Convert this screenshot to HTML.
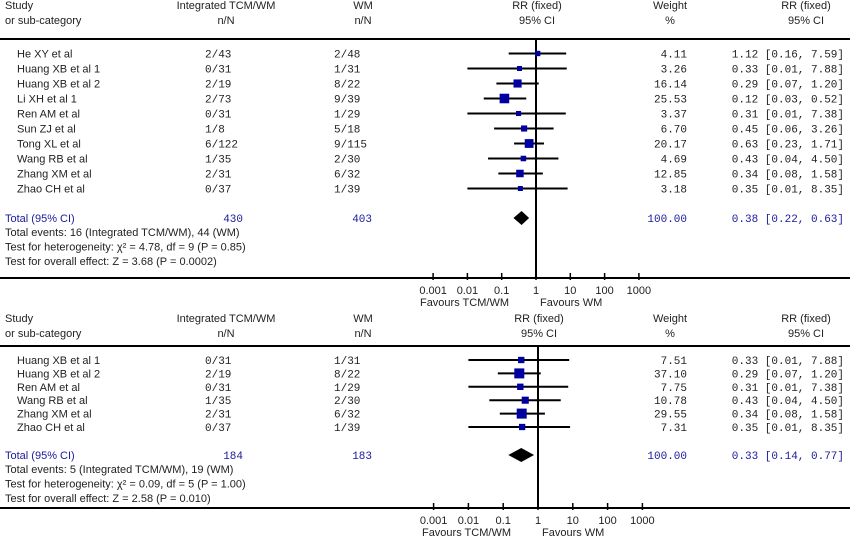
<!DOCTYPE html>
<html><head><meta charset="utf-8">
<style>
body{margin:0;background:#fff;width:850px;height:541px;overflow:hidden}
svg{display:block}
.s{font-family:"Liberation Sans",sans-serif;font-size:11px;fill:#222}
.m{font-family:"Liberation Mono",monospace;font-size:11px;fill:#222}
.b{fill:#1a1a9a}
</style></head><body>
<svg id="chart" width="850" height="541"></svg>
<script>
// Panel 1 data
const studies1 = ["He XY et al","Huang XB et al 1","Huang XB et al 2","Li XH  et al 1","Ren AM et al","Sun ZJ et al","Tong XL et al","Wang RB et al","Zhang XM et al","Zhao CH et al"];
const tcm1 = ["2/43","0/31","2/19","2/73","0/31","1/8","6/122","1/35","2/31","0/37"];
const wm1 = ["2/48","1/31","8/22","9/39","1/29","5/18","9/115","2/30","6/32","1/39"];
const rr1 = [1.12,0.33,0.29,0.12,0.31,0.45,0.63,0.43,0.34,0.35];
const lo1 = [0.16,0.01,0.07,0.03,0.01,0.06,0.23,0.04,0.08,0.01];
const hi1 = [7.59,7.88,1.20,0.52,7.38,3.26,1.71,4.50,1.58,8.35];
const w1 = [4.11,3.26,16.14,25.53,3.37,6.70,20.17,4.69,12.85,3.18];
const total1 = {n1:"430",n2:"403",rr:0.38,lo:0.22,hi:0.63};
const notes1 = ["Total events: 16 (Integrated TCM/WM), 44 (WM)","Test for heterogeneity: χ² = 4.78, df = 9 (P = 0.85)","Test for overall effect: Z = 3.68 (P = 0.0002)"];
// Panel 2 data
const studies2 = ["Huang XB et al 1","Huang XB et al 2","Ren AM et al","Wang RB et al","Zhang XM et al","Zhao CH et al"];
const tcm2 = ["0/31","2/19","0/31","1/35","2/31","0/37"];
const wm2 = ["1/31","8/22","1/29","2/30","6/32","1/39"];
const rr2 = [0.33,0.29,0.31,0.43,0.34,0.35];
const lo2 = [0.01,0.07,0.01,0.04,0.08,0.01];
const hi2 = [7.88,1.20,7.38,4.50,1.58,8.35];
const w2 = [7.51,37.10,7.75,10.78,29.55,7.31];
const total2 = {n1:"184",n2:"183",rr:0.33,lo:0.14,hi:0.77};
const notes2 = ["Total events: 5 (Integrated TCM/WM), 19 (WM)","Test for heterogeneity: χ² = 0.09, df = 5 (P = 1.00)","Test for overall effect: Z = 2.58 (P = 0.010)"];
const ticks = [0.001,0.01,0.1,1,10,100,1000];
const tickLabels = ["0.001","0.01","0.1","1","10","100","1000"];

const svg=document.getElementById('chart');
const NS="http://www.w3.org/2000/svg";
function mk(tag,attrs,name,parent){
  const e=document.createElementNS(NS,tag);
  for(const k in attrs)e.setAttribute(k,attrs[k]);
  
  
  (parent||svg).appendChild(e);return e;
}
function txt(x,y,s,cls,anchor,name,g){
  const t=mk('text',{x:x,y:y,class:cls,'text-anchor':anchor||'start'},name,g);t.textContent=s;return t;
}
const f2=v=>v.toFixed(2);
function panel(P,studies,tcm,wm,rr,lo,hi,w,total,notes,pname){
  const g=mk('g',{},pname);
  const X=v=>P.cx+Math.log10(v)*P.dec;
  const y0=P.top;
  txt(5,y0+13,"Study","s","start","study-header",g);
  txt(5,y0+28,"or sub-category","s","start","study-subheader",g);
  txt(226,y0+13,"Integrated TCM/WM","s","middle","tcm-header",g);
  txt(226,y0+28,"n/N","s","middle","tcm-subheader",g);
  txt(363,y0+13,"WM","s","middle","wm-header",g);
  txt(363,y0+28,"n/N","s","middle","wm-subheader",g);
  txt(P.cx+1,y0+13,"RR (fixed)","s","middle","rr-plot-header",g);
  txt(P.cx+1,y0+28,"95% CI","s","middle","rr-plot-subheader",g);
  txt(670,y0+13,"Weight","s","middle","weight-header",g);
  txt(670,y0+28,"%","s","middle","weight-subheader",g);
  txt(806,y0+13,"RR (fixed)","s","middle","rr-header",g);
  txt(806,y0+28,"95% CI","s","middle","rr-subheader",g);
  mk('line',{x1:0,x2:850,y1:P.line,y2:P.line,stroke:'#000','stroke-width':2},'header-rule',g);
  mk('line',{x1:P.cx,x2:P.cx,y1:P.line,y2:P.axis,stroke:'#000','stroke-width':2},'null-line',g);
  mk('line',{x1:0,x2:850,y1:P.axis,y2:P.axis,stroke:'#000','stroke-width':2},'x-axis',g);
  studies.forEach((s,i)=>{
    const y=P.row0+i*P.step;
    txt(17,y+4,s,"s","start","study-label",g);
    txt(205,y+4,tcm[i],"m","start","tcm-events",g);
    txt(334,y+4,wm[i],"m","start","wm-events",g);
    mk('line',{x1:X(lo[i]),x2:X(hi[i]),y1:y,y2:y,stroke:'#000','stroke-width':2},'ci-line',g);
    const sz=Math.min(10,2.5+Math.sqrt(w[i])*1.4);
    mk('rect',{x:X(rr[i])-sz/2,y:y-sz/2,width:sz,height:sz,fill:'#0000a0'},'effect-square',g);
    txt(687,y+4,f2(w[i]),"m","end","weight-value",g);
    txt(844,y+4,f2(rr[i])+" ["+f2(lo[i])+", "+f2(hi[i])+"]","m","end","rr-ci-value",g);
  });
  const ty=P.total;
  txt(5,ty+4,"Total (95% CI)","s b","start","total-label",g);
  txt(243,ty+4,total.n1,"m b","end","total-tcm",g);
  txt(372,ty+4,total.n2,"m b","end","total-wm",g);
  const a=X(total.lo),b=X(total.hi),c=X(total.rr);
  mk('polygon',{points:`${a},${ty} ${c},${ty-7} ${b},${ty} ${c},${ty+7}`,fill:'#000'},'pooled-diamond',g);
  txt(687,ty+4,"100.00","m b","end","total-weight",g);
  txt(844,ty+4,f2(total.rr)+" ["+f2(total.lo)+", "+f2(total.hi)+"]","m b","end","total-rr",g);
  notes.forEach((n,i)=>txt(5,ty+18+i*14.5,n,"s","start","summary-note",g));
  ticks.forEach((t,i)=>{
    mk('line',{x1:X(t),x2:X(t),y1:P.axis-5,y2:P.axis+2,stroke:'#000','stroke-width':1.5},'x-tick',g);
    txt(X(t),P.axis+16,tickLabels[i],"s","middle","x-tick-label",g);
  });
  txt(P.cx-27,P.axis+28,"Favours TCM/WM","s","end","favours-left",g);
  txt(P.cx+4,P.axis+28,"Favours WM","s","start","favours-right",g);
}
panel({top:-4,line:39,axis:278,cx:536,dec:34.3,row0:53.5,step:15,total:218},studies1,tcm1,wm1,rr1,lo1,hi1,w1,total1,notes1,'panel-all-studies');
panel({top:309,line:346,axis:508,cx:538,dec:34.8,row0:360,step:13.4,total:455},studies2,tcm2,wm2,rr2,lo2,hi2,w2,total2,notes2,'panel-subgroup');
</script>
</body></html>
